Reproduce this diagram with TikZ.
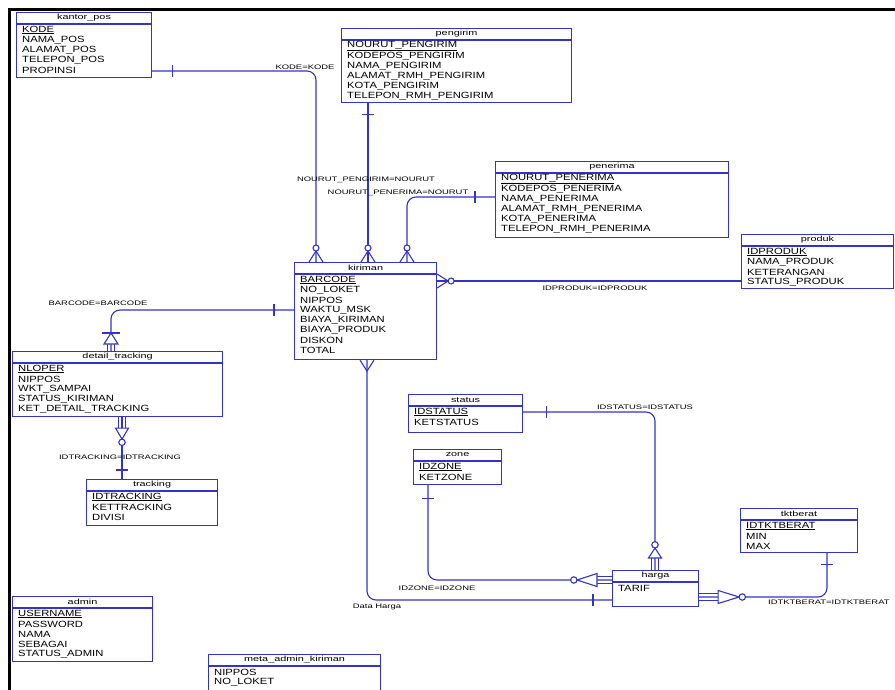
\documentclass[tikz,border=0pt]{standalone}
\usepackage{fontspec}
\setmainfont[FakeStretch=1.25]{Liberation Sans}
\newfontfamily\lblfont[FakeStretch=1.45]{Liberation Sans}
\usetikzlibrary{calc}
\definecolor{erblue}{RGB}{51,51,204}
\tikzset{
  ebox/.style={draw=erblue, line width=1.1pt, fill=white, inner sep=0pt, anchor=north west},
  etitle/.style={font=\lblfont\fontsize{7.5}{8}\selectfont, inner sep=0pt},
  eattr/.style={font=\fontsize{9}{10}\selectfont, inner sep=0pt, anchor=west},
  rel/.style={draw=erblue, line width=1.1pt},
  lbl/.style={font=\lblfont\fontsize{6.5}{7}\selectfont, inner sep=0pt},
  updir/.style={x={(0pt,1pt)},y={(1pt,0pt)}},
  downdir/.style={x={(0pt,-1pt)},y={(1pt,0pt)}},
  ldir/.style={x={(-1pt,0pt)},y={(0pt,1pt)}},
  rdir/.style={x={(1pt,0pt)},y={(0pt,1pt)}},
}
\newcommand\erent[8]{%
  \node[ebox, minimum width=#4pt, minimum height=#5pt] (#1) at (#2,#3) {};
  \node[etitle] (#1-title) at ($(#1.north west)!0.5!(#1.north east)+(0,6)$) {#6};
  \draw[rel] ($(#1.north west)+(0,12)$) -- ($(#1.north east)+(0,12)$);
  \node[eattr] (#1-pk) at ($(#1.north west)+(6,18)$) {#7};
  \foreach \a [count=\i] in {#8} {\node[eattr] (#1-a\i) at ($(#1.north west)+(6,18+10*\i)$) {\a};}
}
\newcommand\ercfoot[2]{\begin{scope}[shift={(#1)},#2]
  \draw[rel] (0,-7) -- (11,0) -- (0,7);
  \draw[rel,fill=white] (14,0) circle[radius=3pt];
\end{scope}}
\newcommand\erfoot[2]{\begin{scope}[shift={(#1)},#2]
  \draw[rel] (0,-7) -- (11,0) -- (0,7);
\end{scope}}
\newcommand\ertick[2]{\begin{scope}[shift={(#1)},#2]
  \draw[rel] (0,-6) -- (0,6);
\end{scope}}
\newcommand\erdep[4]{\begin{scope}[shift={(#1)},#2]
  \draw[rel] (0,-3.5) -- (#3,-3.5) (0,3.5) -- (#3,3.5);
  \draw[rel,fill=white] (#3,-6.5) -- (#3+#4,0) -- (#3,6.5) -- cycle;
  \draw[rel,fill=white] (#3+#4+3.2,0) circle[radius=3.2pt];
\end{scope}}
\newcommand\erdepbar[4]{\begin{scope}[shift={(#1)},#2]
  \draw[rel] (0,-3.5) -- (#3,-3.5) (0,3.5) -- (#3,3.5);
  \draw[rel,fill=white] (#3,-7) -- (#3+#4,0) -- (#3,7) -- cycle;
  \draw[rel] (#3+#4,-9) -- (#3+#4,9);
\end{scope}}
\begin{document}
\begin{tikzpicture}[x=1pt,y=-1pt]
\useasboundingbox (0,0) rectangle (895,690);
\fill[white] (0,0) rectangle (895,690);
\draw[line width=3pt, black] (9.5,690) -- (9.5,10) -- (895,10);

% entities
\erent{kantorpos}{16}{12}{135}{65}{kantor\_pos}{\underline{KODE}}{NAMA\_POS,ALAMAT\_POS,TELEPON\_POS,PROPINSI}
\erent{pengirim}{341}{28}{230}{74}{pengirim}{\underline{NOURUT\_PENGIRIM}}{KODEPOS\_PENGIRIM,NAMA\_PENGIRIM,ALAMAT\_RMH\_PENGIRIM,KOTA\_PENGIRIM,TELEPON\_RMH\_PENGIRIM}
\erent{penerima}{495}{161}{233}{76}{penerima}{\underline{NOURUT\_PENERIMA}}{KODEPOS\_PENERIMA,NAMA\_PENERIMA,ALAMAT\_RMH\_PENERIMA,KOTA\_PENERIMA,TELEPON\_RMH\_PENERIMA}
\erent{produk}{741}{234}{152}{54}{produk}{\underline{IDPRODUK}}{NAMA\_PRODUK,KETERANGAN,STATUS\_PRODUK}
\erent{kiriman}{294}{262}{142}{97}{kiriman}{\underline{BARCODE}}{NO\_LOKET,NIPPOS,WAKTU\_MSK,BIAYA\_KIRIMAN,BIAYA\_PRODUK,DISKON,TOTAL}
\erent{detailtracking}{12}{351}{210}{65}{detail\_tracking}{\underline{NLOPER}}{NIPPOS,WKT\_SAMPAI,STATUS\_KIRIMAN,KET\_DETAIL\_TRACKING}
\erent{tracking}{86}{479}{131}{46}{tracking}{\underline{IDTRACKING}}{KETTRACKING,DIVISI}
\erent{status}{408}{394}{114}{38}{status}{\underline{IDSTATUS}}{KETSTATUS}
\erent{zone}{413}{449}{88}{35}{zone}{\underline{IDZONE}}{KETZONE}
\node[ebox, minimum width=86pt, minimum height=36pt] (harga) at (612,570) {};
\node[etitle] (harga-title) at ($(harga.north west)!0.5!(harga.north east)+(0,6)$) {harga};
\draw[rel] ($(harga.north west)+(0,12)$) -- ($(harga.north east)+(0,12)$);
\node[eattr] (harga-pk) at ($(harga.north west)+(6,18)$) {TARIF};
\erent{tktberat}{740}{508}{117}{44}{tktberat}{\underline{IDTKTBERAT}}{MIN,MAX}
\erent{admin}{12}{596}{140}{65}{admin}{\underline{USERNAME}}{PASSWORD,NAMA,SEBAGAI,STATUS\_ADMIN}
\erent{meta}{208}{654}{172}{45}{meta\_admin\_kiriman}{NIPPOS}{NO\_LOKET}

% 1 kantor_pos - kiriman
\coordinate (c1a) at (kantorpos.east |- 0,71);
\coordinate (c1b) at (kiriman.north -| 316,0);
\draw[rel, rounded corners=9pt] (c1a) -| (c1b);
\ertick{[xshift=20pt]c1a}{rdir}
\ercfoot{c1b}{updir}
\node[lbl] (l1) at (305,67) {KODE=KODE};

% 2 pengirim - kiriman
\coordinate (c2a) at (pengirim.south -| 368,0);
\coordinate (c2b) at (kiriman.north -| 368,0);
\draw[rel] (c2a) -- (c2b);
\ertick{[yshift=-11pt]c2a}{downdir}
\ercfoot{c2b}{updir}
\node[lbl] (l2) at (366,180) {NOURUT\_PENGIRIM=NOURUT};

% 3 penerima - kiriman
\coordinate (c3a) at (penerima.west |- 0,197);
\coordinate (c3b) at (kiriman.north -| 407,0);
\draw[rel, rounded corners=9pt] (c3a) -| (c3b);
\ertick{[xshift=-20pt]c3a}{ldir}
\ercfoot{c3b}{updir}
\node[lbl] (l3) at (398,193) {NOURUT\_PENERIMA=NOURUT};

% 4 produk - kiriman
\coordinate (c4a) at (produk.west |- 0,281);
\coordinate (c4b) at (kiriman.east |- 0,281);
\draw[rel] (c4a) -- (c4b);
\ercfoot{c4b}{rdir}
\node[lbl] (l4) at (595,288) {IDPRODUK=IDPRODUK};

% 5 kiriman - detail_tracking
\coordinate (c5a) at (kiriman.west |- 0,310);
\coordinate (c5b) at (detailtracking.north -| 111,0);
\draw[rel, rounded corners=9pt] (c5a) -| (c5b);
\ertick{[xshift=-20pt]c5a}{ldir}
\erdepbar{c5b}{updir}{7}{11}
\node[lbl] (l5) at (98,303) {BARCODE=BARCODE};

% 6 detail_tracking - tracking
\coordinate (c6a) at (detailtracking.south -| 122,0);
\coordinate (c6b) at (tracking.north -| 122,0);
\draw[rel] (c6a) -- (c6b);
\erdep{c6a}{downdir}{11}{11}
\ertick{[yshift=9pt]c6b}{updir}
\node[lbl] (l6) at (120,457) {IDTRACKING=IDTRACKING};

% 7 status - harga
\coordinate (c7a) at (status.east |- 0,412);
\coordinate (c7b) at (harga.north -| 655,0);
\draw[rel, rounded corners=9pt] (c7a) -| (c7b);
\ertick{[xshift=23pt]c7a}{rdir}
\erdep{c7b}{updir}{12}{10}
\node[lbl] (l7) at (645,407) {IDSTATUS=IDSTATUS};

% 8 zone - harga
\coordinate (c8a) at (zone.south -| 428,0);
\coordinate (c8b) at (harga.west |- 0,580);
\draw[rel, rounded corners=9pt] (c8a) |- (c8b);
\ertick{[yshift=-13pt]c8a}{downdir}
\erdep{c8b}{ldir}{15}{20}
\node[lbl] (l8) at (437,588) {IDZONE=IDZONE};

% 9 kiriman - harga
\coordinate (c9a) at (kiriman.south -| 367,0);
\coordinate (c9b) at (harga.west |- 0,600);
\draw[rel, rounded corners=9pt] (c9a) |- (c9b);
\erfoot{c9a}{downdir}
\ertick{[xshift=-19pt]c9b}{ldir}
\node[lbl] (l9) at (377,607) {Data Harga};

% 10 tktberat - harga
\coordinate (c10a) at (tktberat.south -| 827,0);
\coordinate (c10b) at (harga.east |- 0,597);
\draw[rel, rounded corners=9pt] (c10a) |- (c10b);
\ertick{[yshift=-11pt]c10a}{downdir}
\erdep{c10b}{rdir}{19}{21}
\node[lbl, anchor=west] (l10) at (768,602) {IDTKTBERAT=IDTKTBERAT};
\end{tikzpicture}
\end{document}
